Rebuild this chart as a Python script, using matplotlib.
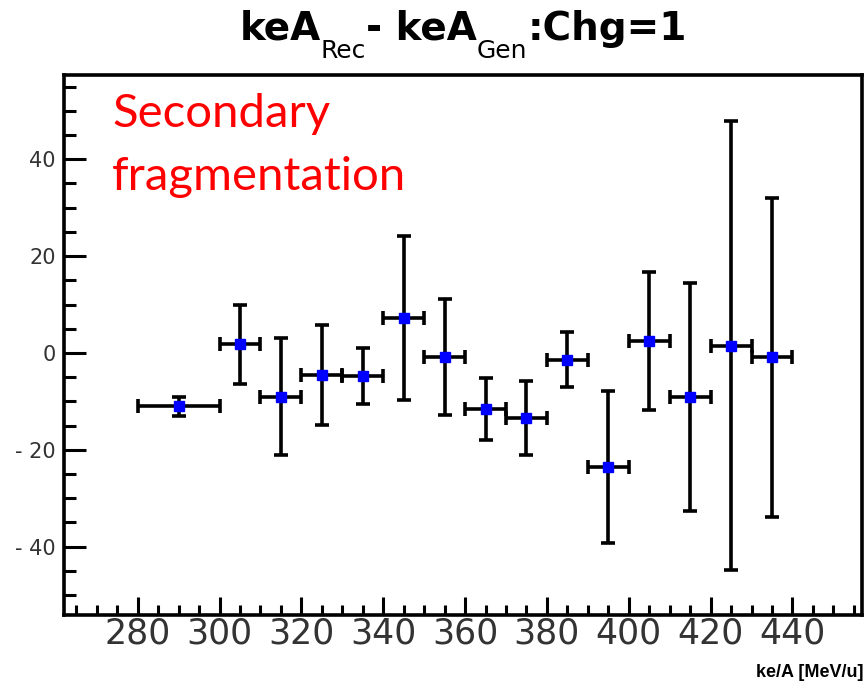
import matplotlib
matplotlib.use("Agg")
import matplotlib.pyplot as plt
from matplotlib.ticker import MultipleLocator

# Kinetic energy per nucleon bins (MeV/u): centres and half-widths
ke_centers = [290, 305, 315, 325, 335, 345, 355, 365, 375, 385, 395, 405, 415, 425, 435]
ke_halfwidth = [10, 5, 5, 5, 5, 5, 5, 5, 5, 5, 5, 5, 5, 5, 5]

# Reconstructed minus generated kinetic energy per nucleon, and its uncertainty
delta_ke = [-11.0, 1.8, -9.0, -4.5, -4.8, 7.2, -0.9, -11.6, -13.4, -1.4, -23.5, 2.5, -9.1, 1.5, -0.9]
delta_err = [2.0, 8.1, 12.0, 10.3, 5.8, 17.0, 12.0, 6.4, 7.6, 5.7, 15.7, 14.3, 23.6, 46.3, 32.9]

x_ticks = [280, 300, 320, 340, 360, 380, 400, 420, 440]
y_ticks = [-40, -20, 0, 20, 40]

W, H = 867, 684
fig = plt.figure(figsize=(W / 100, H / 100), dpi=100)
ax = fig.add_axes([64 / W, 69 / H, 798 / W, 540 / H])

ax.errorbar(ke_centers, delta_ke, xerr=ke_halfwidth, yerr=delta_err,
            fmt="s", color="#0000ff", markersize=7, markeredgecolor="#0000ff",
            ecolor="black", elinewidth=2.6, capsize=5, capthick=2.6, zorder=3)

ax.set_xlim(262, 457)
ax.set_ylim(-54.1, 57.4)

ax.set_xticks(x_ticks)
ax.set_yticks(y_ticks)
ax.xaxis.set_minor_locator(MultipleLocator(5))
ax.yaxis.set_minor_locator(MultipleLocator(5))

for s in ax.spines.values():
    s.set_linewidth(2.6)

ax.tick_params(axis="x", which="major", direction="in", length=13, width=2.2,
               labelsize=25, labelcolor="#333333", pad=1)
ax.tick_params(axis="x", which="minor", direction="in", length=7, width=2.2)
ax.tick_params(axis="y", which="major", direction="in", length=16, width=2.2,
               labelsize=15, labelcolor="#333333", pad=6)
ax.tick_params(axis="y", which="minor", direction="in", length=8.5, width=2.2)
ax.set_yticklabels([f"{v}".replace("-", "- ") for v in y_ticks])
for lab in ax.get_xticklabels() + ax.get_yticklabels():
    lab.set_family("DejaVu Sans")

# Title assembled from pieces: bold main text with regular-weight subscripts
title_pieces = [
    ("keA", 28, "bold", 0),
    ("Rec", 18, "normal", 18),
    ("- keA", 28, "bold", 0),
    ("Gen", 18, "normal", 18),
    (":Chg=1", 28, "bold", 0),
]
renderer = fig.canvas.get_renderer()
objs = []
for s, size, weight, drop in title_pieces:
    t = fig.text(0, 0, s, fontsize=size, weight=weight, family="DejaVu Sans",
                 ha="left", va="baseline")
    objs.append((t, drop))
widths = [t.get_window_extent(renderer).width for t, _ in objs]
x = 463 - sum(widths) / 2
base = 40
for (t, drop), w in zip(objs, widths):
    t.set_position((x / W, 1 - (base + drop) / H))
    x += w

fig.text(112 / W, 1 - 127 / H, "Secondary", color="#ff0000",
         family="Lato", fontsize=34, ha="left", va="baseline")
fig.text(112 / W, 1 - 190 / H, "fragmentation", color="#ff0000",
         family="Lato", fontsize=34, ha="left", va="baseline")

fig.text(864 / W, 1 - 677 / H, "ke/A [MeV/u]", ha="right", va="baseline",
         fontsize=13, weight="bold", family="Liberation Sans")

fig.savefig("out.png", dpi=100)
